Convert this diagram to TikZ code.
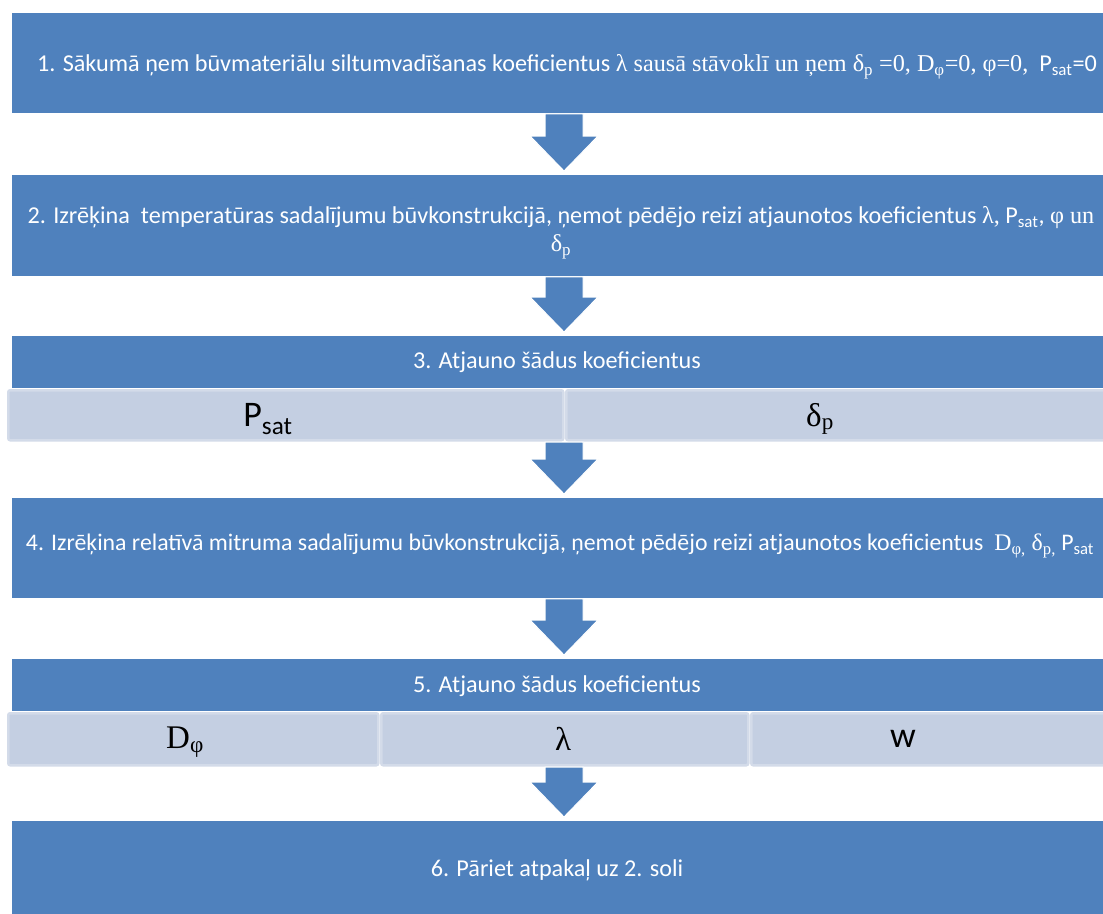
\documentclass[tikz,border=0pt]{standalone}
\usepackage{fontspec}
\setmainfont{Carlito}
\newfontfamily\tms{Liberation Serif}
\usetikzlibrary{calc}
\definecolor{boxblue}{HTML}{4F81BD}
\definecolor{subfill}{HTML}{C4CFE2}
\definecolor{subedge}{HTML}{D3DBE9}
\newcommand{\lo}[1]{\textsubscript{#1}}
\newcommand{\blkarrow}[2]{%
  \coordinate (t#1) at (#1.south -| ax);
  \coordinate (h#1) at (#2.north -| ax);
  \filldraw[blockarrow] ($(t#1)+(-19,0.5)$) -- ($(h#1)+(-19,-39)$) -- ($(h#1)+(-34,-39)$)
    -- ($(h#1)+(0,-4)$) -- ($(h#1)+(34,-39)$) -- ($(h#1)+(19,-39)$) -- ($(t#1)+(19,0.5)$) -- cycle;}
\begin{document}
\begin{tikzpicture}[x=1pt,y=-1pt,
  bluebox/.style={fill=boxblue, draw=none, anchor=north west, inner sep=0pt, minimum width=1098pt},
  boxtext/.style={text=white, inner sep=0pt, font=\fontsize{24.2}{28}\selectfont, align=center},
  subbox/.style={fill=subfill, draw=subedge, line width=2.5pt, rounded corners=2pt,
    anchor=north west, inner sep=0pt, minimum height=50pt},
  subtext/.style={text=black, inner sep=0pt, font=\fontsize{36}{40}\selectfont},
  subtextg/.style={text=black, inner sep=0pt, font=\fontsize{33}{38}\selectfont\tms},
  blockarrow/.style={fill=boxblue, draw=white, line width=1pt}]
\clip (0,0) rectangle (1103,913);
\fill[white] (0,0) rectangle (1103,913);
\coordinate (ax) at (564,0);

\node[bluebox, minimum height=100pt] (b1) at (12,13) {};
\node[boxtext] (b1t) at (567,67)
  {1. Sākumā ņem būvmateriālu siltumvadīšanas koeficientus {\tms λ sausā stāvoklī un ņem δ\lo{p} =0, D\lo{φ}=0, φ=0,} \ P\lo{sat}=0};

\node[bluebox, minimum height=101pt] (b2) at (12,175) {};
\node[boxtext] (b2t) at (561,233)
  {2. Izrēķina \ temperatūras sadalījumu būvkonstrukcijā, ņemot pēdējo reizi atjaunotos koeficientus {\tms λ,} P\lo{sat}, {\tms φ un}\\{\tms δ\lo{p}}};

\node[bluebox, minimum height=52pt] (b3) at (12,336) {};
\node[boxtext] (b3t) at (557,362) {3. Atjauno šādus koeficientus};
\node[subbox, minimum width=555pt] (s3a) at (7,389) {};
\node[subbox, minimum width=545pt] (s3b) at (565,389) {};
\node[subtext] (t3a) at (268,419) {P\lo{sat}};
\node[subtextg] (t3b) at (820,419) {δ\lo{p}};

\node[bluebox, minimum height=100pt] (b4) at (12,498) {};
\node[boxtext, font=\fontsize{23.8}{28}\selectfont] (b4t) at (560,546)
  {4. Izrēķina relatīvā mitruma sadalījumu būvkonstrukcijā, ņemot pēdējo reizi atjaunotos koeficientus \ {\tms D\lo{φ,} δ\lo{p,}} P\lo{sat}};

\node[bluebox, minimum height=52pt] (b5) at (12,659) {};
\node[boxtext] (b5t) at (557,686) {5. Atjauno šādus koeficientus};
\node[subbox, minimum width=370pt, minimum height=52pt] (s5a) at (7,712) {};
\node[subbox, minimum width=367pt, minimum height=52pt] (s5b) at (380,712) {};
\node[subbox, minimum width=360pt, minimum height=52pt] (s5c) at (750,712) {};
\node[subtextg] (t5a) at (185,742) {D\lo{φ}};
\node[subtextg] (t5b) at (563,739) {λ};
\node[subtext] (t5c) at (903,739) {w};

\node[bluebox, minimum height=100pt] (b6) at (12,821) {};
\node[boxtext] (b6t) at (557,870) {6. Pāriet atpakaļ uz 2. soli};

\blkarrow{b1}{b2}
\blkarrow{b2}{b3}
\blkarrow{s3a}{b4}
\blkarrow{b4}{b5}
\blkarrow{s5a}{b6}
\end{tikzpicture}
\end{document}
